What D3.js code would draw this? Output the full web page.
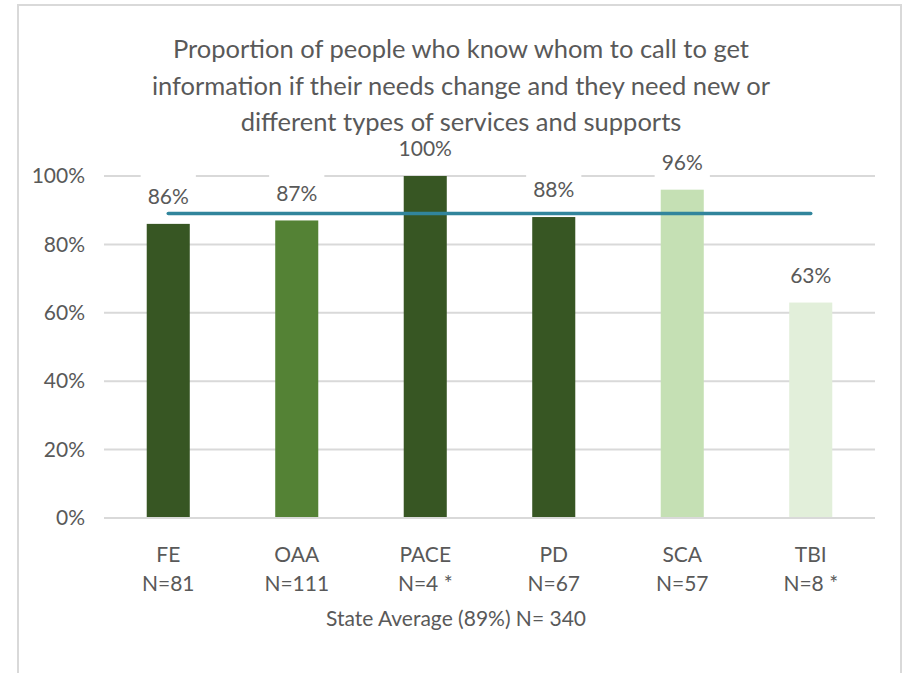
<!DOCTYPE html>
<html>
<head>
<meta charset="utf-8">
<script src="https://cdn.jsdelivr.net/npm/d3@7"></script>
<style>
  html, body { margin: 0; padding: 0; background: #fff; }
  svg { display: block; }
  text { font-family: Lato, "Open Sans", sans-serif; fill: #595959; }
</style>
</head>
<body>
<div id="chart"></div>
<script>
// Program groups, their sample sizes and the share answering "yes"
const categories = ["FE", "OAA", "PACE", "PD", "SCA", "TBI"];
const sampleLabels = ["N=81", "N=111", "N=4 *", "N=67", "N=57", "N=8 *"];
const values = [0.86, 0.87, 1.00, 0.88, 0.96, 0.63];
const barColors = ["#375623", "#548235", "#375623", "#375623", "#C5E0B4", "#E2EFDA"];
const stateAverage = 0.89;
const yTicks = [0, 0.2, 0.4, 0.6, 0.8, 1.0];
const titleLines = [
  "Proportion of people who know whom to call to get",
  "information if their needs change and they need new or",
  "different types of services and supports"
];
const footnote = "State Average (89%) N= 340";

const W = 905, H = 673;
const svg = d3.select("#chart").append("svg").attr("width", W).attr("height", H);

// chart frame
svg.append("rect")
  .attr("x", 18).attr("y", 5).attr("width", 883).attr("height", H + 10)
  .attr("fill", "#fff").attr("stroke", "#d9d9d9").attr("stroke-width", 2);

const plot = { left: 104, right: 875, top: 176, bottom: 518 };

const x = d3.scaleBand()
  .domain(categories)
  .range([plot.left, plot.right])
  .paddingInner(0.665)
  .paddingOuter(0.3325);

const y = d3.scaleLinear().domain([0, 1]).range([plot.bottom, plot.top]);

const pct = d3.format(".0%");
const labelFont = "21px";

// horizontal gridlines
svg.append("g").selectAll("line")
  .data(yTicks.filter(t => t > 0)).join("line")
  .attr("x1", plot.left).attr("x2", plot.right)
  .attr("y1", d => y(d)).attr("y2", d => y(d))
  .attr("stroke", "#d9d9d9").attr("stroke-width", 2);

// y axis labels
const yAxis = d3.axisLeft(y).tickValues(yTicks).tickFormat(pct).tickSize(0).tickPadding(0);
const gy = svg.append("g").attr("transform", "translate(85,0)").call(yAxis);
gy.select(".domain").remove();
gy.selectAll("text").style("font-size", labelFont).attr("fill", "#595959")
  .style("font-family", null);

// value labels sit above each bar on a white box
const labelY = d => y(d) - 27;
const boxes = svg.append("g");

// bars
svg.append("g").selectAll("rect")
  .data(values).join("rect")
  .attr("x", (d, i) => x(categories[i]))
  .attr("y", d => y(d))
  .attr("width", x.bandwidth())
  .attr("height", d => y(0) - y(d))
  .attr("fill", (d, i) => barColors[i]);

// category axis baseline
svg.append("line")
  .attr("x1", plot.left).attr("x2", plot.right)
  .attr("y1", y(0)).attr("y2", y(0))
  .attr("stroke", "#d9d9d9").attr("stroke-width", 2);

// state average line across the group centres
const firstC = x(categories[0]) + x.bandwidth() / 2;
const lastC = x(categories[categories.length - 1]) + x.bandwidth() / 2;
svg.append("line")
  .attr("x1", firstC).attr("x2", lastC)
  .attr("y1", y(stateAverage)).attr("y2", y(stateAverage))
  .attr("stroke", "#31859C").attr("stroke-width", 3.5)
  .attr("stroke-linecap", "round");

const valueLabels = svg.append("g").selectAll("text")
  .data(values).join("text")
  .attr("x", (d, i) => x(categories[i]) + x.bandwidth() / 2)
  .attr("y", d => labelY(d))
  .attr("dy", "0.35em")
  .attr("text-anchor", "middle")
  .style("font-size", labelFont)
  .text(d => pct(d));

valueLabels.each(function(d, i) {
  const w = this.getComputedTextLength() + 14;
  boxes.append("rect")
    .attr("x", x(categories[i]) + x.bandwidth() / 2 - w / 2)
    .attr("y", labelY(d) - 22)
    .attr("width", w).attr("height", 44)
    .attr("fill", "#fff");
});

// category labels with sample sizes
const cat = svg.append("g").selectAll("g")
  .data(categories).join("g")
  .attr("transform", d => `translate(${x(d) + x.bandwidth() / 2},0)`);
cat.append("text").attr("y", 555).attr("dy", "0.35em")
  .attr("text-anchor", "middle").style("font-size", labelFont).text(d => d);
cat.append("text").attr("y", 584).attr("dy", "0.35em")
  .attr("text-anchor", "middle").style("font-size", labelFont)
  .text((d, i) => sampleLabels[i]);

svg.append("text")
  .attr("x", 456).attr("y", 619).attr("dy", "0.35em")
  .attr("text-anchor", "middle").style("font-size", labelFont)
  .text(footnote);

// title, drawn last so it stays above everything
svg.append("g").selectAll("text")
  .data(titleLines).join("text")
  .attr("x", 461).attr("y", (d, i) => 58 + i * 36.5)
  .attr("text-anchor", "middle")
  .style("font-size", "25.5px")
  .text(d => d);
</script>
</body>
</html>
